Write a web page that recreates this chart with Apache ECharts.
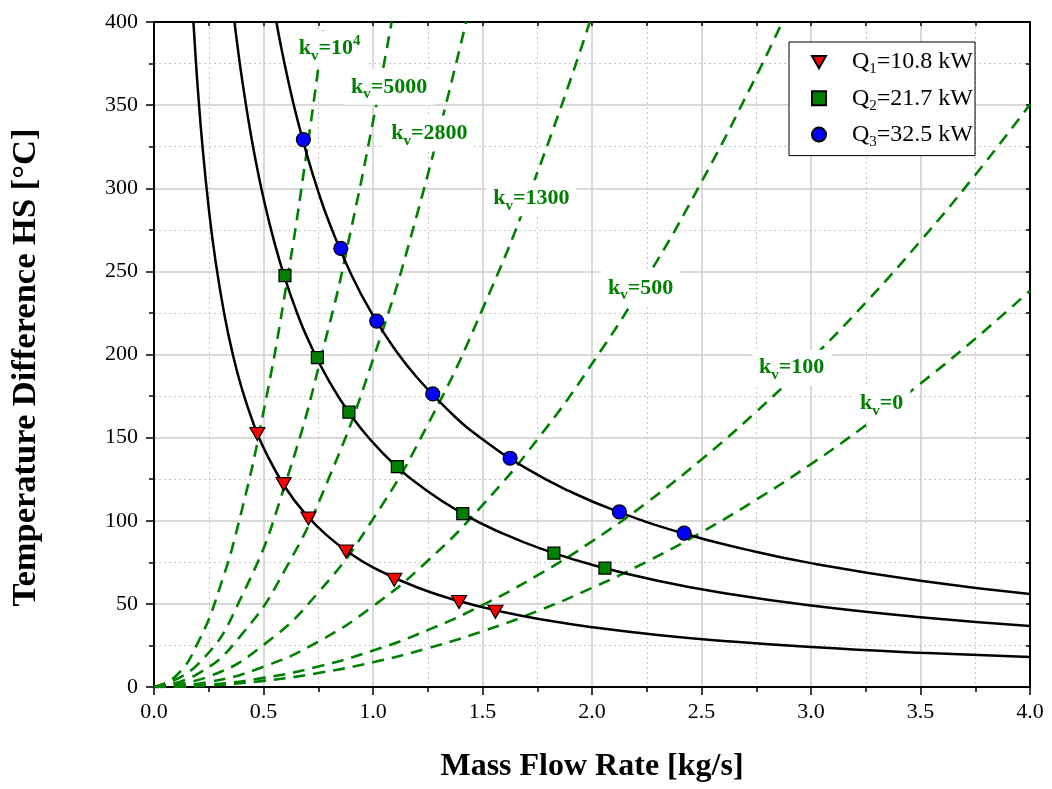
<!DOCTYPE html>
<html><head><meta charset="utf-8">
<script src="https://cdn.jsdelivr.net/npm/echarts@6/dist/echarts.min.js"></script>
<style>html,body{margin:0;padding:0;background:#fff}#c{width:1052px;height:789px}</style>
</head><body><div id="c"></div>
<script>
// ---- Data ----
// Black curves (constant heat load Q)
const q1CurveX = [0.18,0.19,0.2,0.22,0.25,0.28,0.32,0.36,0.4,0.45,0.5,0.6,0.7,0.8,0.9,1.0,1.2,1.4,1.6,1.8,2.0,2.3,2.6,3.0,3.5,4.0];
const q1CurveT = [400,378.9,360,327.3,288,257.1,225,200,180,160,144,120,102.9,90,80,72,60,51.4,45,40,36,31.3,27.7,24,20.6,18];
const q2CurveX = [0.3675,0.38,0.4,0.43,0.46,0.5,0.55,0.6,0.65,0.7,0.8,0.9,1.0,1.1,1.2,1.4,1.6,1.8,2.0,2.3,2.6,3.0,3.5,4.0];
const q2CurveT = [400,386.8,367.5,341.9,319.6,294,267.3,245,226.2,210,183.8,163.3,147,133.6,122.5,105,91.9,81.7,73.5,63.9,56.5,49,42,36.75];
const q3CurveX = [0.559,0.58,0.61,0.65,0.7,0.75,0.8,0.9,1.0,1.1,1.2,1.35,1.5,1.7,1.9,2.1,2.4,2.7,3.0,3.5,4.0];
const q3CurveT = [399.8,385.3,366.4,343.8,319.3,298,279.4,248.3,223.5,203.2,186.3,165.6,149,131.5,117.6,106.4,93.1,82.8,74.5,63.9,55.9];

// Marker points
const q1X = [0.472,0.592,0.705,0.877,1.097,1.393,1.559];
const q1T = [152.2,122.0,101.3,81.5,64.5,51.1,45.3];
const q2X = [0.598,0.746,0.890,1.111,1.410,1.826,2.059];
const q2T = [247.4,198.1,165.3,132.6,104.3,80.5,71.5];
const q3X = [0.682,0.853,1.017,1.273,1.626,2.125,2.421];
const q3T = [329.3,263.8,220.1,176.3,137.6,105.3,92.5];

// Green dashed curves (valve coefficient k_v)
const kv0X = [0,0.25,0.5,0.75,1.0,1.25,1.5,1.75,2.0,2.25,2.5,2.75,3.0,3.25,3.5,3.75,4.0];
const kv0T = [0,0.93,3.7,8.4,14.9,23.3,33.5,45.6,59.6,75.4,93.1,112.7,134.1,157.4,182.5,209.5,238.4];
const kv100X = [0,0.25,0.5,0.75,1.0,1.25,1.5,1.75,2.0,2.25,2.5,2.75,3.0,3.25,3.5,3.75,4.0];
const kv100T = [0,1.4,5.5,12.3,21.9,34.2,49.3,67.1,87.6,110.9,136.9,165.6,197.1,231.3,268.3,308,350.4];
const kv500X = [0,0.25,0.5,0.75,1.0,1.25,1.5,1.75,2.0,2.25,2.5,2.75,2.87];
const kv500T = [0,3.0,12.2,27.3,48.6,75.9,109.4,148.8,194.4,246.0,303.8,367.5,400.3];
const kv1300X = [0,0.25,0.5,0.75,1.0,1.25,1.5,1.75,1.99];
const kv1300T = [0,6.3,25.3,56.8,101,157.8,227.3,309.3,400];
const kv2800X = [0,0.2,0.4,0.6,0.8,1.0,1.2,1.425];
const kv2800T = [0,7.9,31.5,70.9,126.1,197,283.7,400];
const kv5000X = [0,0.2,0.4,0.6,0.8,0.9,1.0,1.085];
const kv5000T = [0,13.6,54.4,122.4,217.6,275.4,340,400];
const kv10000X = [0,0.1,0.2,0.3,0.4,0.5,0.6,0.7,0.777];
const kv10000T = [0,6.6,26.5,59.6,105.9,165.5,238.3,324.4,399.7];

// k_v annotation labels
const kvLabelValue = ['10', '5000', '2800', '1300', '500', '100', '0'];
const kvLabelSup   = ['4', '', '', '', '', '', ''];
const kvLabelX = [0.802, 1.074, 1.257, 1.723, 2.222, 2.912, 3.323];
const kvLabelY = [384, 361, 333, 294, 240, 192, 170.5];

// Legend texts
const seriesNames = ['Q1', 'Q2', 'Q3'];
const legendSub = ['1', '2', '3'];
const legendRest = ['=10.8 kW', '=21.7 kW', '=32.5 kW'];

const xTicks = [0, 0.5, 1.0, 1.5, 2.0, 2.5, 3.0, 3.5, 4.0];
const yTicks = [0, 50, 100, 150, 200, 250, 300, 350, 400];

// ---- Chart ----
const F = "'Liberation Serif','Times New Roman',serif";
const GREEN = '#008000';
const zip = (a, b) => a.map((v, i) => [v, b[i]]);

function dashed(x, t) {
  return {
    type: 'line', data: zip(x, t), showSymbol: false, symbol: 'none',
    smooth: 0.5, silent: true, z: 2,
    lineStyle: { color: GREEN, width: 2.6, type: [12, 8] }
  };
}
function curve(x, t) {
  return {
    type: 'line', data: zip(x, t), showSymbol: false, symbol: 'none',
    smooth: 0.5, silent: true, z: 3,
    lineStyle: { color: '#000', width: 2.5 }
  };
}

const chart = echarts.init(document.getElementById('c'), null, { renderer: 'canvas' });

const axisLineStyle = { color: '#000', width: 2 };
const legendIcons = {
  Q1: 'path://M0,0 L16,0 L8,14 Z',
  Q2: 'rect',
  Q3: 'circle'
};
const option = {
  animation: false,
  backgroundColor: '#fff',
  grid: { left: 154, right: 22, top: 22, bottom: 102, containLabel: false },
  legend: {
    data: seriesNames.map(n => ({ name: n, icon: legendIcons[n] })),
    orient: 'vertical',
    left: 789, top: 42,
    itemWidth: 14, itemHeight: 14,
    itemGap: 9.3,
    padding: [8, 2, 6, 22],
    backgroundColor: '#fff',
    borderColor: '#000', borderWidth: 1,
    formatter: name => {
      const i = seriesNames.indexOf(name);
      return '{p|}{a|Q}{s|' + legendSub[i] + '}{a|' + legendRest[i] + '}';
    },
    textStyle: {
      fontFamily: F, color: '#000',
      rich: {
        p: { width: 21, height: 30 },
        a: { fontFamily: F, fontSize: 24, color: '#000', lineHeight: 30, verticalAlign: 'middle' },
        s: { fontFamily: F, fontSize: 15, color: '#000', lineHeight: 13, verticalAlign: 'bottom' }
      }
    }
  },
  xAxis: [{
    type: 'value', min: 0, max: 4, interval: 0.5, position: 'bottom',
    name: 'Mass Flow Rate [kg/s]', nameLocation: 'middle', nameGap: 64,
    nameTextStyle: { fontFamily: F, fontSize: 32, fontWeight: 'bold', color: '#000' },
    axisLine: { show: true, onZero: false, lineStyle: axisLineStyle },
    axisTick: { show: true, inside: false, length: 8, lineStyle: { color: '#000', width: 1.5 } },
    minorTick: { show: true, splitNumber: 2, length: 5, lineStyle: { color: '#000', width: 1.5 } },
    axisLabel: { fontFamily: F, fontSize: 22, color: '#000', margin: 14,
      customValues: xTicks, formatter: v => v.toFixed(1) },
    splitLine: { show: true, lineStyle: { color: '#cccccc', width: 1.5 } },
    minorSplitLine: { show: true, lineStyle: { color: '#c8c8c8', width: 1, type: [2, 3] } }
  }, {
    type: 'value', min: 0, max: 4, interval: 0.25, position: 'top',
    axisLine: { show: true, onZero: false, lineStyle: axisLineStyle },
    axisTick: { show: true, inside: true, length: 4, lineStyle: { color: '#000', width: 1.5 } },
    axisLabel: { show: false }, splitLine: { show: false }
  }],
  yAxis: [{
    type: 'value', min: 0, max: 400, interval: 50, position: 'left',
    name: 'Temperature Difference HS [°C]', nameLocation: 'middle', nameGap: 110,
    nameTextStyle: { fontFamily: F, fontSize: 34.5, fontWeight: 'bold', color: '#000', padding: [0, 26, 0, 0] },
    axisLine: { show: true, onZero: false, lineStyle: axisLineStyle },
    axisTick: { show: true, inside: false, length: 8, lineStyle: { color: '#000', width: 1.5 } },
    minorTick: { show: true, splitNumber: 2, length: 5, lineStyle: { color: '#000', width: 1.5 } },
    axisLabel: { fontFamily: F, fontSize: 22, color: '#000', margin: 16, customValues: yTicks },
    splitLine: { show: true, lineStyle: { color: '#cccccc', width: 1.5 } },
    minorSplitLine: { show: true, lineStyle: { color: '#c8c8c8', width: 1, type: [2, 3] } }
  }, {
    type: 'value', min: 0, max: 400, interval: 25, position: 'right',
    axisLine: { show: true, onZero: false, lineStyle: axisLineStyle },
    axisTick: { show: true, inside: true, length: 4, lineStyle: { color: '#000', width: 1.5 } },
    axisLabel: { show: false }, splitLine: { show: false }
  }],
  series: [
    dashed(kv0X, kv0T), dashed(kv100X, kv100T), dashed(kv500X, kv500T),
    dashed(kv1300X, kv1300T), dashed(kv2800X, kv2800T), dashed(kv5000X, kv5000T),
    dashed(kv10000X, kv10000T),
    curve(q1CurveX, q1CurveT), curve(q2CurveX, q2CurveT), curve(q3CurveX, q3CurveT),
    {
      type: 'scatter', silent: true, z: 4, symbolSize: 0,
      itemStyle: { color: 'rgba(0,0,0,0)', opacity: 1 },
      data: kvLabelX.map((x, i) => ({
        value: [x, kvLabelY[i]],
        label: { formatter: '{k|k}{v|v}{k|=' + kvLabelValue[i] + '}' + (kvLabelSup[i] ? '{u|' + kvLabelSup[i] + '}' : '') }
      })),
      label: {
        show: true, position: 'inside', backgroundColor: '#fff', padding: [3, 7],
        color: GREEN, textBorderWidth: 0, opacity: 1,
        rich: {
          k: { fontFamily: F, fontSize: 22, fontWeight: 'bold', color: GREEN, textBorderWidth: 0, lineHeight: 30, verticalAlign: 'middle' },
          v: { fontFamily: F, fontSize: 15, fontWeight: 'bold', color: GREEN, textBorderWidth: 0, lineHeight: 12, verticalAlign: 'bottom' },
          u: { fontFamily: F, fontSize: 15, fontWeight: 'bold', color: GREEN, textBorderWidth: 0, lineHeight: 14, verticalAlign: 'top' }
        }
      }
    },
    {
      name: 'Q1', type: 'scatter', z: 5, symbol: 'triangle', symbolRotate: 180, symbolSize: [15, 13],
      itemStyle: { color: '#ff0000', borderColor: '#000', borderWidth: 1.2, opacity: 1 },
      data: zip(q1X, q1T)
    },
    {
      name: 'Q2', type: 'scatter', z: 5, symbol: 'rect', symbolSize: 12,
      itemStyle: { color: '#008000', borderColor: '#000', borderWidth: 1.2, opacity: 1 },
      data: zip(q2X, q2T)
    },
    {
      name: 'Q3', type: 'scatter', z: 5, symbol: 'circle', symbolSize: 14,
      itemStyle: { color: '#0000ff', borderColor: '#000', borderWidth: 1.2, opacity: 1 },
      data: zip(q3X, q3T)
    }
  ]
};
chart.setOption(option);
</script>
</body></html>
